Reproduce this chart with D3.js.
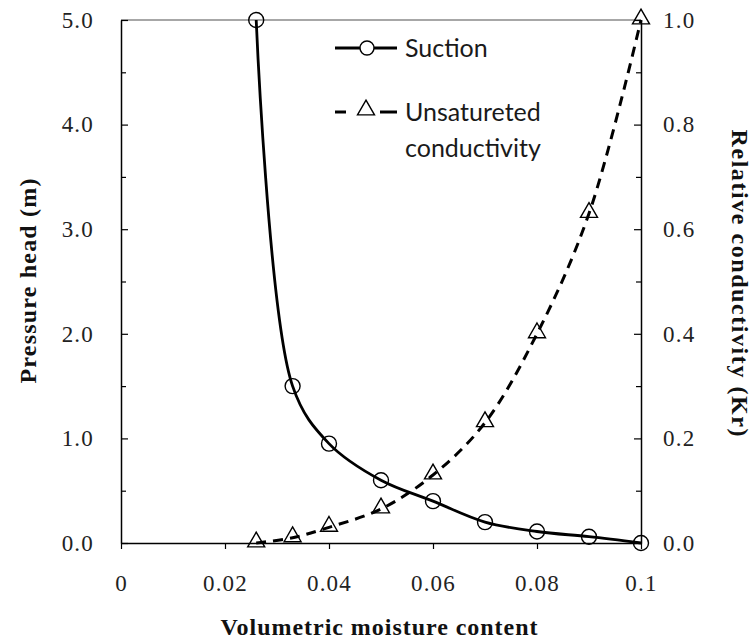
<!DOCTYPE html>
<html>
<head>
<meta charset="utf-8">
<script src="https://cdn.jsdelivr.net/npm/d3@7/dist/d3.min.js"></script>
<style>
  html, body { margin: 0; padding: 0; background: #fff; }
  svg { display: block; }
  .tick text { font-family: "Liberation Serif", "Times New Roman", serif; font-size: 23px; letter-spacing: 1.2px; fill: #222; }
  .axis-title { font-family: "Liberation Serif", "Times New Roman", serif; font-size: 24px; font-weight: bold; fill: #111; }
  .legend text { font-family: Lato, "Open Sans", sans-serif; font-size: 25px; fill: #1a1a1a; }
</style>
</head>
<body>
<svg id="chart" width="752" height="642"></svg>
<script>
// Volumetric moisture content (x) shared by both curves
const moisture = [0.026, 0.033, 0.04, 0.05, 0.06, 0.07, 0.08, 0.09, 0.1];
// Suction curve: pressure head in metres (left axis)
const pressureHead = [5.0, 1.5, 0.95, 0.6, 0.4, 0.2, 0.11, 0.06, 0.0];
// Relative unsaturated conductivity Kr (right axis)
const relConductivity = [0.0, 0.01, 0.03, 0.065, 0.13, 0.23, 0.40, 0.63, 1.0];

const xTicks = [0, 0.02, 0.04, 0.06, 0.08, 0.1];
const xTickLabels = ["0", "0.02", "0.04", "0.06", "0.08", "0.1"];
const leftTicks = [0, 1, 2, 3, 4, 5];
const leftMinorTicks = [0.5, 1.5, 2.5, 3.5, 4.5];
const rightTicks = [0, 0.2, 0.4, 0.6, 0.8, 1.0];
const rightMinorTicks = [0.1, 0.3, 0.5, 0.7, 0.9];

const seriesNames = ["Suction", "Unsatureted", "conductivity"];
const axisTitles = {
  x: "Volumetric moisture content",
  left: "Pressure head (m)",
  right: "Relative conductivity (Kr)"
};

const svg = d3.select("#chart");
const plot = { left: 121, right: 641, top: 20, bottom: 543 };

const x = d3.scaleLinear().domain([0, 0.1]).range([plot.left, plot.right]);
const yL = d3.scaleLinear().domain([0, 5]).range([plot.bottom, plot.top]);
const yR = d3.scaleLinear().domain([0, 1]).range([plot.bottom, plot.top]);

// Top frame line (grey)
svg.append("line")
  .attr("x1", plot.left).attr("x2", plot.right)
  .attr("y1", plot.top).attr("y2", plot.top)
  .attr("stroke", "#8a8a8a").attr("stroke-width", 1.5);

function styleAxis(g) {
  g.selectAll(".domain").attr("stroke", "#000").attr("stroke-width", 1.5);
  g.selectAll(".tick line").attr("stroke", "#000").attr("stroke-width", 1.2);
}
function clearTextAttrs(g) {
  g.selectAll(".tick text").attr("font-family", null).attr("font-size", null);
}

// Bottom axis
svg.append("g")
  .attr("transform", `translate(0,${plot.bottom})`)
  .call(d3.axisBottom(x).tickValues(xTicks)
    .tickFormat((d, i) => xTickLabels[i])
    .tickSizeInner(6).tickSizeOuter(0).tickPadding(26))
  .call(styleAxis)
  .call(clearTextAttrs);

// Left axis (major + minor ticks pointing inward)
svg.append("g")
  .attr("transform", `translate(${plot.left},0)`)
  .call(d3.axisLeft(yL).tickValues(leftTicks).tickFormat(d3.format(".1f"))
    .tickSizeInner(-7).tickSizeOuter(0).tickPadding(27))
  .call(styleAxis)
  .call(clearTextAttrs);
svg.append("g")
  .attr("transform", `translate(${plot.left},0)`)
  .call(d3.axisLeft(yL).tickValues(leftMinorTicks).tickFormat("")
    .tickSizeInner(-5).tickSizeOuter(0))
  .call(styleAxis)
  .call(g => g.select(".domain").remove());

// Right axis
svg.append("g")
  .attr("transform", `translate(${plot.right},0)`)
  .call(d3.axisRight(yR).tickValues(rightTicks).tickFormat(d3.format(".1f"))
    .tickSizeInner(-7).tickSizeOuter(0).tickPadding(22))
  .call(styleAxis)
  .call(clearTextAttrs);
svg.append("g")
  .attr("transform", `translate(${plot.right},0)`)
  .call(d3.axisRight(yR).tickValues(rightMinorTicks).tickFormat("")
    .tickSizeInner(-5).tickSizeOuter(0))
  .call(styleAxis)
  .call(g => g.select(".domain").remove());

// Axis titles
svg.append("text").attr("class", "axis-title")
  .attr("x", 379).attr("y", 635)
  .attr("text-anchor", "middle")
  .attr("textLength", 317).attr("lengthAdjust", "spacing")
  .text(axisTitles.x);
svg.append("text").attr("class", "axis-title")
  .attr("transform", "translate(36,281) rotate(-90)")
  .attr("text-anchor", "middle")
  .attr("textLength", 205).attr("lengthAdjust", "spacing")
  .text(axisTitles.left);
svg.append("text").attr("class", "axis-title")
  .attr("transform", "translate(732,283) rotate(90)")
  .attr("text-anchor", "middle")
  .attr("textLength", 307).attr("lengthAdjust", "spacing")
  .text(axisTitles.right);

// Data series
const suction = moisture.map((m, i) => ({ x: m, y: pressureHead[i] }));
const conduct = moisture.map((m, i) => ({ x: m, y: relConductivity[i] }));

const lineL = d3.line().x(d => x(d.x)).y(d => yL(d.y)).curve(d3.curveCatmullRom.alpha(0.5));
const lineR = d3.line().x(d => x(d.x)).y(d => yR(d.y)).curve(d3.curveCatmullRom.alpha(0.5));

svg.append("path").datum(conduct)
  .attr("d", lineR)
  .attr("fill", "none").attr("stroke", "#000")
  .attr("stroke-width", 3).attr("stroke-dasharray", "10,7");

svg.append("path").datum(suction)
  .attr("d", lineL)
  .attr("fill", "none").attr("stroke", "#000")
  .attr("stroke-width", 2.8);

const tri = d3.symbol().type(d3.symbolTriangle).size(125);

svg.append("g").selectAll("path").data(conduct).join("path")
  .attr("transform", d => `translate(${x(d.x)},${yR(d.y) - 1})`)
  .attr("d", tri)
  .attr("fill", "none").attr("stroke", "#000").attr("stroke-width", 1.4);

svg.append("g").selectAll("circle").data(suction).join("circle")
  .attr("cx", d => x(d.x)).attr("cy", d => yL(d.y)).attr("r", 7.5)
  .attr("fill", "none").attr("stroke", "#000").attr("stroke-width", 1.4);

// Legend
const legend = svg.append("g").attr("class", "legend");
legend.append("line").attr("x1", 335).attr("x2", 397).attr("y1", 48).attr("y2", 48)
  .attr("stroke", "#000").attr("stroke-width", 2.8);
legend.append("circle").attr("cx", 367).attr("cy", 48).attr("r", 7)
  .attr("fill", "#fff").attr("stroke", "#000").attr("stroke-width", 1.4);
legend.append("text").attr("x", 405).attr("y", 57).text(seriesNames[0]);

legend.append("line").attr("x1", 335).attr("x2", 346).attr("y1", 112).attr("y2", 112)
  .attr("stroke", "#000").attr("stroke-width", 3);
legend.append("line").attr("x1", 380).attr("x2", 397).attr("y1", 112).attr("y2", 112)
  .attr("stroke", "#000").attr("stroke-width", 3);
legend.append("path").attr("transform", "translate(366,110)").attr("d", tri)
  .attr("fill", "#fff").attr("stroke", "#000").attr("stroke-width", 1.4);
legend.append("text").attr("x", 405).attr("y", 121).text(seriesNames[1]);
legend.append("text").attr("x", 405).attr("y", 157).text(seriesNames[2]);
</script>
</body>
</html>
